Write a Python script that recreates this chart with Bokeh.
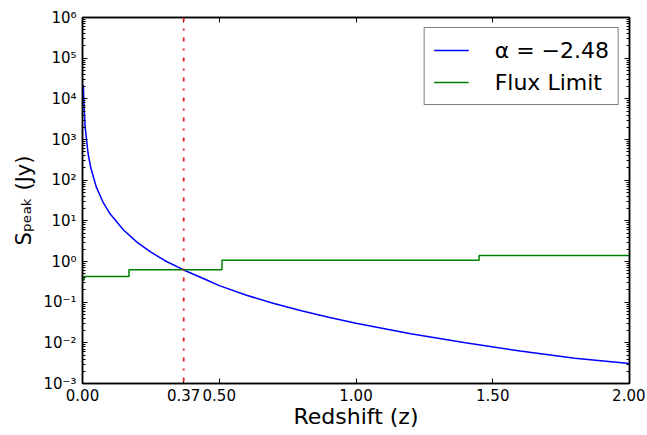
from bokeh.plotting import figure
from bokeh.models import (FixedTicker, NumeralTickFormatter, CustomJSTickFormatter,
                          LinearAxis, LogAxis, LogTicker, Span, Legend)
from bokeh.embed import file_html
from bokeh.resources import INLINE

# ---- data ----
z_curve = [0.003, 0.005, 0.01, 0.02, 0.03, 0.05, 0.075, 0.1, 0.15, 0.2, 0.25, 0.3,
           0.37, 0.45, 0.5, 0.6, 0.7, 0.8, 0.9, 1.0, 1.2, 1.4, 1.6, 1.8, 2.0]
s_curve = [2.2e4, 7.9e3, 1950, 472, 204, 69.3, 28.7, 15.1, 5.94, 2.96, 1.70, 1.06,
           0.62, 0.36, 0.255, 0.148, 0.0925, 0.0613, 0.0424, 0.0303, 0.0167,
           0.0100, 0.0063, 0.0042, 0.0031]
z_edges = [0.0, 0.006, 0.17, 0.51, 1.45, 2.0]
flux_limit = [0.35, 0.43, 0.63, 1.07, 1.40, 1.40]
z_cross = 0.37
x_ticks = [0.0, 0.37, 0.5, 1.0, 1.5, 2.0]
curve_label = "α = −2.48"
limit_label = "Flux Limit"
FONT = "DejaVu Sans"

p = figure(width=645, height=433, output_backend="svg", toolbar_location=None,
           x_range=(0, 2), y_range=(1e-3, 1e6), y_axis_type="log",
           min_border_left=82, min_border_right=16, min_border_top=17, min_border_bottom=50)
p.background_fill_color = "white"
p.border_fill_color = "white"
p.outline_line_color = "black"
p.outline_line_width = 1.5
p.xgrid.visible = False
p.ygrid.visible = False

sup = CustomJSTickFormatter(code="""
const e = Math.round(Math.log10(tick));
const m = {'-':'\u207b','0':'\u2070','1':'\u00b9','2':'\u00b2','3':'\u00b3','4':'\u2074',
           '5':'\u2075','6':'\u2076','7':'\u2077','8':'\u2078','9':'\u2079'};
return '10' + String(e).split('').map(c => m[c]).join('');
""")

def style(ax, labels=True):
    ax.axis_line_color = "black"
    ax.axis_line_width = 1.5
    ax.major_tick_in = 5
    ax.major_tick_out = 0
    ax.minor_tick_in = 3
    ax.minor_tick_out = 0
    ax.major_tick_line_color = "black"
    ax.minor_tick_line_color = "black"
    ax.major_label_text_font = FONT
    ax.major_label_text_font_size = "15px"
    ax.major_label_text_color = "black"
    ax.major_label_standoff = 6
    if not labels:
        ax.major_label_standoff = 0
        ax.major_label_text_font_size = "1px"
        ax.major_label_text_alpha = 0

xax = p.xaxis[0]
xax.ticker = FixedTicker(ticks=x_ticks)
xax.formatter = NumeralTickFormatter(format="0.00")
style(xax)
xax.major_label_standoff = 5
xax.axis_label = "Redshift (z)"
xax.axis_label_text_font = FONT
xax.axis_label_text_font_style = "normal"
xax.axis_label_text_font_size = "22px"
xax.axis_label_text_color = "black"
xax.axis_label_standoff = 0

yax = p.yaxis[0]
yax.ticker = LogTicker(num_minor_ticks=10)
yax.formatter = sup
style(yax)
yax.axis_label = "Sₚₑₐₖ (Jy)"
yax.axis_label_text_font = FONT
yax.axis_label_text_font_style = "normal"
yax.axis_label_text_font_size = "21px"
yax.axis_label_text_color = "black"
yax.axis_label_standoff = 4

top = LinearAxis(ticker=FixedTicker(ticks=x_ticks), formatter=NumeralTickFormatter(format="0.00"))
style(top, labels=False)
p.add_layout(top, "above")
right = LogAxis(ticker=LogTicker(num_minor_ticks=10), formatter=sup)
style(right, labels=False)
p.add_layout(right, "right")

r1 = p.line(z_curve, s_curve, line_color="#0000ff", line_width=1.5)
r2 = p.step(z_edges, flux_limit, mode="after", line_color="#008000", line_width=1.5)
p.add_layout(Span(location=z_cross, dimension="height", line_color="#e02020",
                  line_width=1.8, line_dash="4 7 2 7"))

leg = Legend(items=[(curve_label, [r1]), (limit_label, [r2])], location="top_right")
leg.label_text_font = FONT
leg.label_text_font_size = "22px"
leg.label_text_color = "black"
leg.label_height = 26
leg.border_line_color = "black"
leg.border_line_width = 1.5
leg.glyph_width = 35
leg.label_standoff = 26
leg.padding = 9
leg.spacing = 6
leg.margin = 10
leg.background_fill_alpha = 1
p.add_layout(leg)

open("out.html", "w").write(file_html(p, INLINE))
